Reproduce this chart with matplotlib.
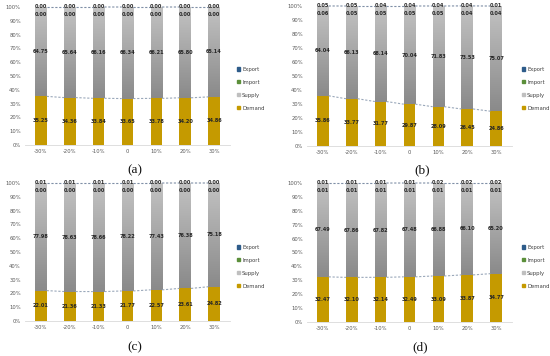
import numpy as np
import matplotlib
matplotlib.use("Agg")
import matplotlib.pyplot as plt
from matplotlib.patches import Patch

# -------- data --------
categories = ["-30%", "-20%", "-10%", "0", "10%", "20%", "30%"]

demand_a = [35.25, 34.36, 33.84, 33.65, 33.78, 34.20, 34.86]
supply_a = [64.75, 65.64, 66.16, 66.34, 66.21, 65.80, 65.14]
import_a = [0.00, 0.00, 0.00, 0.00, 0.00, 0.00, 0.00]
export_a = [0.00, 0.00, 0.00, 0.00, 0.00, 0.00, 0.00]

demand_b = [35.86, 33.77, 31.77, 29.87, 28.09, 26.45, 24.86]
supply_b = [64.04, 66.13, 68.14, 70.04, 71.83, 73.53, 75.07]
import_b = [0.06, 0.05, 0.05, 0.05, 0.05, 0.04, 0.04]
export_b = [0.05, 0.05, 0.04, 0.04, 0.04, 0.04, 0.01]

demand_c = [22.01, 21.36, 21.33, 21.77, 22.57, 23.61, 24.82]
supply_c = [77.98, 78.63, 78.66, 78.22, 77.43, 76.38, 75.18]
import_c = [0.00, 0.00, 0.00, 0.00, 0.00, 0.00, 0.00]
export_c = [0.01, 0.01, 0.01, 0.01, 0.00, 0.00, 0.00]

demand_d = [32.47, 32.10, 32.14, 32.49, 33.09, 33.87, 34.77]
supply_d = [67.49, 67.86, 67.82, 67.48, 66.88, 66.10, 65.20]
import_d = [0.01, 0.01, 0.01, 0.01, 0.01, 0.01, 0.01]
export_d = [0.01, 0.01, 0.01, 0.01, 0.02, 0.02, 0.02]

panels = [
    ("(a)", demand_a, supply_a, import_a, export_a),
    ("(b)", demand_b, supply_b, import_b, export_b),
    ("(c)", demand_c, supply_c, import_c, export_c),
    ("(d)", demand_d, supply_d, import_d, export_d),
]

DEMAND_COL = "#C59A00"
IMPORT_COL = "#5B8F3A"
EXPORT_COL = "#2E5C8A"
SUPPLY_COL = "#ABABAB"

W, H = 550, 356
fig = plt.figure(figsize=(W / 100, H / 100), dpi=100)

# axes boxes in pixels: (left, top, right, bottom)
boxes = [(25, 7, 230, 145), (307, 6, 512, 146),
         (25, 183, 230, 321), (307, 183, 512, 322)]
legend_pos = [(232, 62), (517, 62), (232, 240), (517, 240)]
label_pos = [(135, 170), (422, 170), (135, 347), (420, 347)]

grad = np.linspace(0, 1, 100).reshape(-1, 1)
cmap = matplotlib.colors.LinearSegmentedColormap.from_list("g", ["#8A8A8A", "#C2C2C2"])

x = np.arange(len(categories))
bw = 0.4

for (lab, dem, sup, imp, exp), (l, t, r, b), (lx, ly), (tx, ty) in zip(panels, boxes, legend_pos, label_pos):
    ax = fig.add_axes([l / W, 1 - b / H, (r - l) / W, (b - t) / H])
    dem = np.array(dem); sup = np.array(sup); imp = np.array(imp); exp = np.array(exp)

    ax.bar(x, dem, bw, color=DEMAND_COL, zorder=2)
    bars = ax.bar(x, sup, bw, bottom=dem, color=SUPPLY_COL, zorder=2)
    ax.bar(x, imp, bw, bottom=dem + sup, color=IMPORT_COL, zorder=2)
    ax.bar(x, exp, bw, bottom=dem + sup + imp, color=EXPORT_COL, zorder=2)

    # gradient fill on supply bars
    for p in bars:
        x0, y0 = p.get_x(), p.get_y()
        ax.imshow(grad, cmap=cmap, origin="lower", aspect="auto",
                  extent=(x0, x0 + p.get_width(), y0, y0 + p.get_height()), zorder=3)

    # series lines
    top = dem + sup + imp + exp
    for i in range(len(x) - 1):
        ax.plot([x[i] + bw / 2, x[i + 1] - bw / 2], [dem[i], dem[i + 1]],
                ls=(0, (2, 1.5)), lw=0.8, color="#9AA8BA", zorder=4, clip_on=False)
        ax.plot([x[i] + bw / 2, x[i + 1] - bw / 2], [top[i], top[i + 1]],
                ls=(0, (2, 1.5)), lw=0.8, color="#7F8FA6", zorder=4, clip_on=False)

    # data labels
    kw = dict(ha="center", va="center", fontsize=3.6, fontweight="bold", color="#262626", zorder=5)
    for i in range(len(x)):
        ax.text(x[i], dem[i] / 2, f"{dem[i]:.2f}", **kw)
        ax.text(x[i], dem[i] + sup[i] / 2, f"{sup[i]:.2f}", **kw)
        ax.text(x[i], 94.5, f"{imp[i]:.2f}", **kw)
        ax.text(x[i], 100.6, f"{exp[i]:.2f}", **kw)

    ax.set_xlim(-0.55, len(x) - 0.45)
    ax.set_ylim(0, 100)
    ax.set_yticks(np.arange(0, 101, 10))
    ax.set_yticklabels([f"{v}%" for v in range(0, 101, 10)])
    ax.set_xticks(x)
    ax.set_xticklabels(categories)
    ax.tick_params(length=0, labelsize=3.8, labelcolor="#595959", pad=3)
    for s in ["top", "right", "left"]:
        ax.spines[s].set_visible(False)
    ax.spines["bottom"].set_color("#D9D9D9")
    ax.spines["bottom"].set_linewidth(0.6)

    handles = [Patch(color=EXPORT_COL), Patch(color=IMPORT_COL),
               Patch(color="#BFBFBF"), Patch(color=DEMAND_COL)]
    fig.legend(handles, ["Export", "Import", "Supply", "Demand"],
               loc="upper left", bbox_to_anchor=(lx / W, 1 - ly / H),
               frameon=False, fontsize=3.8, handlelength=0.6, handleheight=0.6,
               handletextpad=0.4, labelspacing=1.5, labelcolor="#404040")

    fig.text(tx / W, 1 - ty / H, lab, ha="center", va="center",
             fontsize=9.5, family="Liberation Serif", color="#111111")

fig.savefig("out.png", dpi=100)
